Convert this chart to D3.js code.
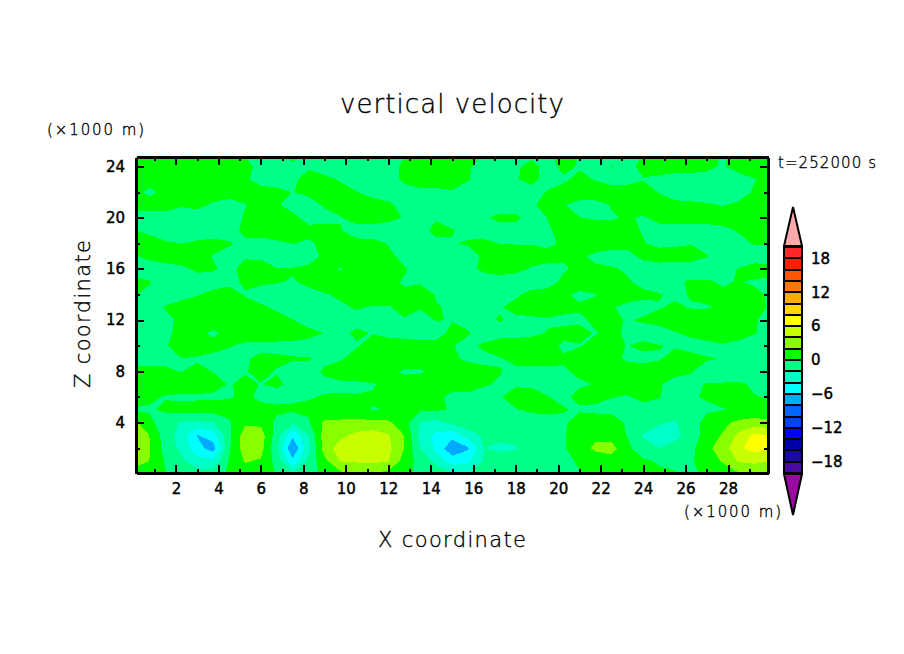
<!DOCTYPE html>
<html>
<head>
<meta charset="utf-8">
<style>
  body { margin: 0; background: #fff; }
  svg { display: block; }
  text { font-family: "DejaVu Sans", sans-serif; fill: #000; stroke: #000; stroke-width: 0.35px; }
  .tick text { font-size: 15px; stroke-width: 0.45px; }
  .band { shape-rendering: crispEdges; }
</style>
</head>
<body>
<script src="https://d3js.org/d3.v7.min.js"></script>
<script>
// vertical velocity, top row z=25 km down to z=0, columns every 0.75 km from x=0
var w = [
 [1,1,1,1,1,1,1,-.3,-1,-1,1,-.2,-1,-1,-1,-1,-.1,-.2,1,1,1,1,-.1,-1,-1,-1,-.3,1,-.1,-1,-1,-1,.1,1,-.2,1,1,-.3,1,1,1],
 [1,1,1,1,1,1,1,1,-1,-.3,-.6,-.2,-1,-1,-1,-1,-1,.5,1,1,1,.3,-1,-1,-.5,1,-1,.6,-.2,-1,.1,-.7,.6,1,1,1,.6,-.3,1,1,1],
 [1,1,1,1,1,1,1,.4,-1,-1,-.3,.6,.5,-.2,-1,-1,-.7,.3,1,1,1,.05,-.4,-1,-.2,.8,-1,-.3,.5,-.1,-.8,-.8,-.1,-.5,-1,-1,-1,-1,-1,-.1,.6],
 [1,-.6,.8,1,1,1,1,1,1,.6,-.05,.4,1,.8,.1,-.8,-1,-.5,-.5,-.5,-.2,-.3,-.8,-1,-1,-1,.2,.7,1,1,1,1,1,-.1,-1,-1,-1,-1,-1,.3,1],
 [1,1,1,.2,.5,-.3,-1,-.1,1,.2,-.7,-.7,.2,.7,1,1,.4,-.7,-1,-1,-1,-1,-1,-1,-1,-.2,.5,.1,-.6,-.6,.1,.8,1,1,.6,.4,.2,-.1,.4,1,-.1],
 [-1,-1,-1,-1,-1,-1,-1,.2,1,1,.5,-.7,-.6,-.1,.8,1,.5,-.1,-1,-.2,-.7,-1,-.3,.5,.5,-1,.05,.05,.05,-.2,-.2,.2,-.2,.6,1,1,1,1,1,1,-.2],
 [.1,-.4,-.8,-1,-1,-1,-1,.6,1,1,1,.6,.6,.1,-.8,-1,-1,-1,-.7,.6,.1,-.5,-1,-1,-1,-1,-.2,.5,1,1,1,.4,-.1,-.7,-1,-1,-1,-.6,.2,1,1],
 [1,.8,.2,-.02,.3,.6,.2,-.5,-.8,-.3,.05,-.3,.5,.6,.5,.6,-.1,-1,-1,-.6,-.1,.2,.5,-.05,-.1,-.1,-.4,.3,1,1,.8,.5,.1,-.5,-.3,-.1,-.5,-1,-.7,.2,.1],
 [-.2,.5,1,1,.8,-.1,-.6,-.2,-.2,-.8,-.8,-.6,.3,1,1,1,.5,-.6,-1,-1,-1,-.8,.3,1,1,.8,.6,.1,.3,-.4,-.8,-.5,.4,1,.8,.8,.1,-.7,-1,-1,-1],
 [-1,-1,-.8,-.4,.3,.2,-.5,.6,.5,.05,.1,.3,.3,-.1,.6,1,1,.2,-.7,-1,-1,-.5,.4,1,.5,-.2,-.5,-.1,.2,.3,.2,-.2,-.8,-1,-1,-1,-1,-.7,.1,.8,.6],
 [.6,.1,-.7,-.1,-.7,-.8,-.4,.2,.2,.1,-.1,.3,.8,1,1,1,.5,-.2,-.1,-.05,-.4,-1,-1,-1,-1,-.7,-.4,.2,.8,1,.8,.2,-.5,-.8,-.3,.2,.2,-.2,.1,-.2,-.3],
 [.1,-.3,-.7,-.5,-.1,.5,.7,-.1,-.5,-.7,-.8,-.4,-.1,.2,.8,.8,.4,.3,.4,-.05,-.5,-1,-1,-.7,-.2,.4,.4,.2,-.3,-.05,.5,.5,.4,.1,-.3,.1,.3,.3,.3,.3,-.2],
 [-.2,-.5,.1,.6,.8,1,1,.6,.2,-.2,-.7,-1,-1,-.2,.1,-.1,-.05,.2,.1,.05,-.1,-.6,-.7,-.1,.4,.7,.8,.5,.2,.3,.1,-.3,-.6,-.1,.3,-.1,-.1,.2,.3,.3,-.1],
 [-1,-1,-.4,.3,1,1,1,1,1,.4,.05,-.7,-1,-.8,-.4,-.6,-.3,-.05,-.5,.05,-.05,-.3,-.3,.1,-.3,-.3,-.2,-.4,-.3,.3,.3,-.1,.2,.6,1,1,1,1,.8,.1,-.4],
 [-1,-1,-.3,.4,.5,-.3,.5,.8,1,1,.8,.5,-.05,-.3,.2,-.05,-.6,-.8,-1,-.5,.3,.1,-.6,-.6,-.6,-.4,.1,.5,.5,-.1,.3,-.2,-.7,-.8,-.1,.3,.8,1,.8,.1,-.6],
 [-1,-1,-.1,.5,1,.5,.1,-.3,-.5,-.5,-.5,-.6,-.5,-.4,-.1,.4,1,1,.8,.4,.05,-.3,.2,.8,1,1,.6,-.3,-.1,.5,.4,-.05,.4,.05,-.1,-.5,-.5,-.2,-.6,-.8,-.8],
 [-1,-1,-.3,-.02,-.2,-.4,-.5,-.2,.4,.3,.1,.1,-.3,-.1,.4,.8,1,1,1,.5,.3,-.3,-.3,-.1,.4,.8,.8,.2,.8,1,.6,-.3,-.5,-.1,.4,.5,.1,-.05,-.5,-.8,-.8],
 [.6,.8,.2,-.05,.4,-.05,-.4,-.1,.4,-.1,-.5,-.5,.2,.5,1,1,.4,-.2,-.2,.5,.1,.8,.3,.05,-.3,-.5,-.5,-.2,.3,.8,1,1,.8,.6,.4,.05,-.4,-.7,-.8,-.8,-.2],
 [-.1,.3,.6,1,1,.6,-.1,.3,-.05,.3,-.4,-.6,-.3,-.2,-.3,-.1,.3,.6,.8,.5,.3,.5,.1,-.1,-.1,-.2,-.4,-.6,-.2,.05,.5,.5,.3,.1,-.5,-.2,.05,.1,.2,-.2,-.2],
 [.5,.3,-.1,-.3,-.3,-.3,-.1,.2,-.2,-.6,-.3,-.1,.1,.1,.1,.1,.05,.2,.3,.2,-.2,-.3,-.4,-.05,.3,.5,.05,-.3,.4,.5,.05,-.1,.3,.05,-.3,-.1,.1,.3,.3,.05,-.1],
 [-.1,-.2,.3,.6,.8,.8,.5,.1,.3,.4,.3,.3,.3,.4,.3,-.05,.05,.4,.3,.2,-.1,-.3,-.3,-.3,-.05,.2,.3,.1,-.2,-.4,-.4,-.4,-.4,-.4,-.4,-.3,-.2,-.05,.1,.4,.3],
 [2.6,.5,-1,-2.2,-2.4,-2.1,-.2,1.7,1.5,-.5,-1.7,-.2,2.4,2.5,2.6,2.6,2.4,.8,-2,-2.6,-1.5,-.8,-.6,-.6,-.6,-.6,-.5,-.3,.8,1,.8,-.2,-.6,-1.8,-2.2,-.7,.5,1.5,2.5,2.9,2.5],
 [4,2,-1,-2.8,-6.1,-5,-.5,3,3,-1,-5.5,-2,3,3.5,4.5,5,4.2,2,-2.6,-4.5,-5.2,-3,-1.7,-1.6,-1.2,-.6,-.5,-.2,1.2,1.6,1.2,-.1,-2.2,-2.8,-2.6,-1,.8,2.2,4.5,6.5,5.8],
 [4.4,2.1,-.7,-2.5,-5.2,-7,-.3,3,2.8,-1.7,-8,-2.5,3,5,5.5,5.5,4.6,2,-2,-4.5,-7.5,-6.3,-2,-2.3,-2.2,-.8,-.5,-.2,1,2.4,2.8,.5,-1.2,-2,-1.3,-.6,1.5,3,5.6,6.9,6],
 [3,2,-.2,-1.6,-3.2,-3.6,.1,2.2,1.8,-.7,-5.5,-1.5,1.5,4.1,4.3,4.4,4.1,1.2,-.8,-2.5,-5,-4.5,-1.9,-1.2,-.8,-.6,-.4,-.2,.1,.8,1.2,.8,.3,-.2,-.3,-.2,.9,2.2,4.2,4.5,4],
 [1.2,.3,.1,-.8,-1.2,-1,.3,1,.8,-.1,-1.5,-.8,.5,1.5,1.9,1.9,1.3,.3,-.3,-1,-1.8,-2,-1,-.6,-.5,-.4,-.3,-.1,-.05,.3,.5,.7,.5,.3,.1,-.2,.2,.9,1.8,2.2,2]
];
var levels = [-20,-18,-16,-14,-12,-10,-8,-6,-4,-2,0,2,4,6,8,10,12,14,16,18];
var bandColors = ["#4b0aa0","#1a0aa0","#0000aa","#0000ff","#0044ff","#0066ff","#00aaff","#00ffff","#00ffc8","#00ff88",
                  "#00ff00","#88ff00","#c8ff00","#ffff00","#ffd700","#ffaa00","#ff7700","#ff5500","#ff2000","#ff2828"];
var xTicks = [2,4,6,8,10,12,14,16,18,20,22,24,26,28];
var xMinor = [1,3,5,7,9,11,13,15,17,19,21,23,25,27,29];
var zTicks = [4,8,12,16,20,24];
var zMinor = [2,6,10,14,18,22];
var barTicks = [-18,-12,-6,0,6,12,18];

var width = 904, height = 654;
var svg = d3.select("body").append("svg").attr("width", width).attr("height", height);

var xScale = d3.scaleLinear().domain([0.12, 29.88]).range([136, 768]);
var zScale = d3.scaleLinear().domain([0.06, 24.75]).range([473, 157]);

svg.append("clipPath").attr("id", "plot").append("rect")
    .attr("x", 136).attr("y", 157).attr("width", 632).attr("height", 316);

// grid -> pixels. d3.contours puts value i at i+0.5
var nx = w[0].length, nz = w.length;
var project = d3.geoTransform({
    point: function(x, y) {
        this.stream.point(xScale((x - 0.5) * 0.75), zScale(nz - 1 - (y - 0.5)));
    }
});
var path = d3.geoPath(project);
var contours = d3.contours().size([nx, nz]).thresholds(levels)(d3.merge(w));

svg.append("rect").attr("x", 136).attr("y", 157).attr("width", 632).attr("height", 316)
    .attr("fill", bandColors[9]);

svg.append("g").attr("clip-path", "url(#plot)")
    .selectAll("path").data(contours).enter().append("path")
    .attr("class", "band")
    .attr("d", path)
    .attr("fill", function(d, i) { return bandColors[i]; });

// frame and ticks
function styleAxis(g) {
    g.selectAll("path.domain").attr("stroke", "#000").attr("stroke-width", 2.5);
    g.selectAll("line").attr("stroke", "#000").attr("stroke-width", 2);
    g.attr("shape-rendering", "crispEdges");
}
function addAxis(axis, major, minor, tx, ty, pad, labels) {
    var g = svg.append("g").attr("transform", "translate(" + tx + "," + ty + ")");
    g.call(axis(major === "x" ? xScale : zScale).tickValues(minor).tickSizeInner(-4).tickSizeOuter(0).tickFormat(""))
        .call(styleAxis);
    var h = svg.append("g").attr("transform", "translate(" + tx + "," + ty + ")");
    h.call(axis(major === "x" ? xScale : zScale).tickValues(major === "x" ? xTicks : zTicks)
            .tickSizeInner(-8).tickSizeOuter(0).tickPadding(pad)
            .tickFormat(labels ? d3.format("d") : ""))
        .call(styleAxis);
    return h;
}
addAxis(d3.axisBottom, "x", xMinor, 0, 473, 10, true);
addAxis(d3.axisTop, "x", xMinor, 0, 157, 10, false);
addAxis(d3.axisLeft, "z", zMinor, 136, 0, 11, true);
addAxis(d3.axisRight, "z", zMinor, 768, 0, 10, false);

// colour bar
var barScale = d3.scaleLinear().domain([-20, 20]).range([473, 247]);
var barX0 = 784, barX1 = 802, barMid = 793;
var bar = svg.append("g");
bar.selectAll("rect").data(levels).enter().append("rect")
    .attr("x", barX0).attr("width", barX1 - barX0)
    .attr("y", function(d) { return barScale(d + 2); })
    .attr("height", function(d) { return barScale(d) - barScale(d + 2); })
    .attr("fill", function(d, i) { return bandColors[i]; })
    .attr("stroke", "#000").attr("stroke-width", 2)
    .attr("shape-rendering", "crispEdges");
bar.append("path").attr("d", "M" + barX0 + " 246L" + barMid + " 207L" + barX1 + " 246Z")
    .attr("fill", "#ffaaaa").attr("stroke", "#000").attr("stroke-width", 2);
bar.append("path").attr("d", "M" + barX0 + " 474L" + barMid + " 515L" + barX1 + " 474Z")
    .attr("fill", "#9a0aa0").attr("stroke", "#000").attr("stroke-width", 2);

svg.append("g").attr("transform", "translate(802,0)")
    .call(d3.axisRight(barScale).tickValues(barTicks).tickSize(0).tickPadding(9)
        .tickFormat(function(d) { return d < 0 ? "\u2212" + (-d) : d; }))
    .call(function(g) { g.select("path.domain").remove(); });

// texts
function label(s, x, y, size, len, rotate) {
    var t = svg.append("text").text(s)
        .attr("x", x).attr("y", y)
        .attr("font-size", size)
        .attr("font-weight", 200)
        .attr("text-anchor", "middle")
        .attr("textLength", len).attr("lengthAdjust", "spacing");
    if (rotate) t.attr("transform", "rotate(-90," + x + "," + y + ")");
    return t;
}
label("vertical velocity", 452, 113, 26, 224);
label("X coordinate", 452, 547, 21, 148);
label("Z coordinate", 90, 314, 21, 148, true);
label("(\u00d71000 m)", 95.5, 135, 15, 97);
label("(\u00d71000 m)", 732.5, 517, 15, 97);
label("t=252000 s", 827, 168, 15, 98);
</script>
</body>
</html>
